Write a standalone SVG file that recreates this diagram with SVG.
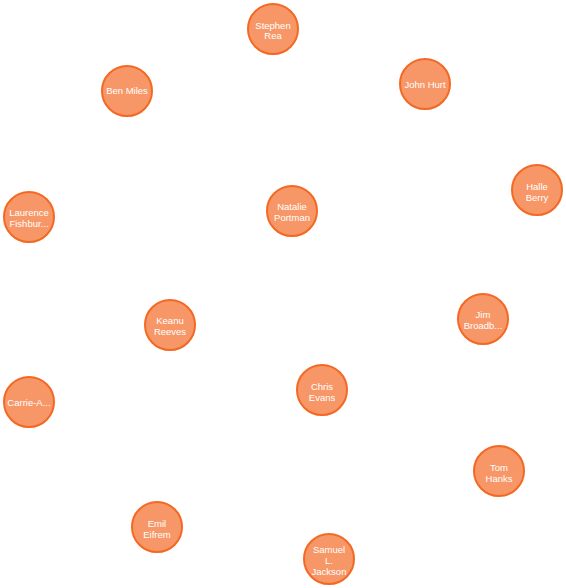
<svg xmlns="http://www.w3.org/2000/svg" width="566" height="588" viewBox="0 0 566 588">
<style>
.n circle{fill:#F79767;stroke:#F36924;stroke-width:2}
.n text{fill:#fff;font-family:"Liberation Sans",Arial,sans-serif;font-size:9.5px;text-anchor:middle}
</style>
<rect width="566" height="588" fill="#fff"/>
<g id="connectors"></g>
<g id="stephen-rea" class="n"><circle cx="273" cy="29" r="25"/><text x="273" y="29">Stephen</text><text x="273" y="39">Rea</text></g>
<g id="ben-miles" class="n"><circle cx="127" cy="91" r="25"/><text x="127" y="94">Ben Miles</text></g>
<g id="john-hurt" class="n"><circle cx="425" cy="84" r="25"/><text x="425" y="88">John Hurt</text></g>
<g id="halle-berry" class="n"><circle cx="537" cy="190" r="25"/><text x="537" y="190">Halle</text><text x="537" y="201">Berry</text></g>
<g id="laurence-fishburne" class="n"><circle cx="29" cy="217" r="25"/><text x="29" y="216">Laurence</text><text x="29" y="227">Fishbur...</text></g>
<g id="natalie-portman" class="n"><circle cx="292" cy="211" r="25"/><text x="292" y="210">Natalie</text><text x="292" y="221">Portman</text></g>
<g id="keanu-reeves" class="n"><circle cx="170" cy="325" r="25"/><text x="170" y="324">Keanu</text><text x="170" y="335">Reeves</text></g>
<g id="jim-broadbent" class="n"><circle cx="483" cy="319" r="25"/><text x="483" y="318">Jim</text><text x="483" y="329">Broadb...</text></g>
<g id="carrie-anne" class="n"><circle cx="29" cy="402" r="25"/><text x="29" y="406">Carrie-A...</text></g>
<g id="chris-evans" class="n"><circle cx="322" cy="390" r="25"/><text x="322" y="390">Chris</text><text x="322" y="401">Evans</text></g>
<g id="tom-hanks" class="n"><circle cx="499" cy="471" r="25"/><text x="499" y="471">Tom</text><text x="499" y="482">Hanks</text></g>
<g id="emil-eifrem" class="n"><circle cx="157" cy="527" r="25"/><text x="157" y="527">Emil</text><text x="157" y="538">Eifrem</text></g>
<g id="samuel-l-jackson" class="n"><circle cx="329" cy="559" r="25"/><text x="329" y="553">Samuel</text><text x="329" y="564">L.</text><text x="329" y="575">Jackson</text></g>
</svg>
